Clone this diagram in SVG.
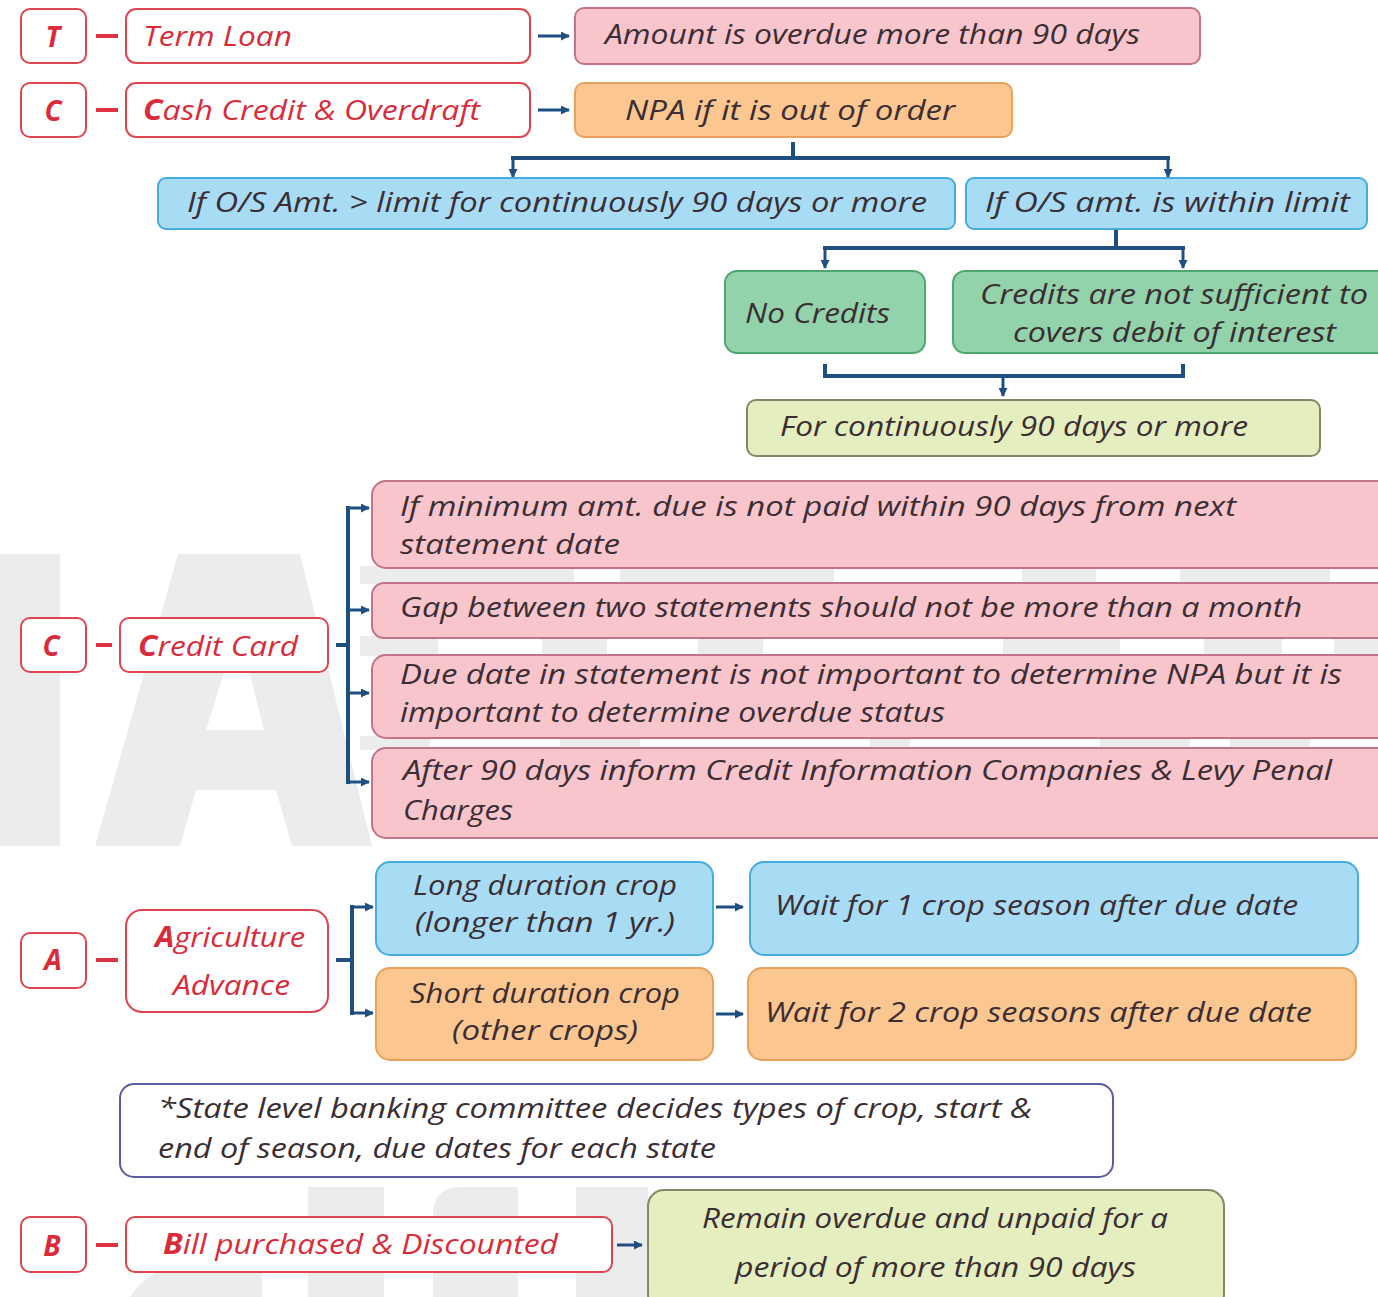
<svg xmlns="http://www.w3.org/2000/svg" width="1378" height="1297" viewBox="0 0 1378 1297">
  <style>
    .t { font-family: "Open Sans", "Liberation Sans", sans-serif; font-style: italic; font-size: 28px; fill: #3a2d33; }
    .r { fill: #d92b3a; }
    .lt { font-weight: 700; }
    .key { fill: #ffffff; stroke: #e0454f; stroke-width: 2; }
    .pink { fill: #f7c5cb; stroke: #c27488; stroke-width: 2; }
    .orange { fill: #fbc690; stroke: #e9a25c; stroke-width: 2; }
    .blue { fill: #a8dcf5; stroke: #45ace0; stroke-width: 2; }
    .green { fill: #92d3ab; stroke: #4ca86f; stroke-width: 2; }
    .olive { fill: #e5eebf; stroke: #85876a; stroke-width: 2; }
    .note { fill: #ffffff; stroke: #5c5ca2; stroke-width: 2; }
    .dash { stroke: #dd3342; stroke-width: 4; fill: none; }
    .wire { stroke: #1e4f80; stroke-width: 4; fill: none; }
    .arr { stroke: #1e4f80; stroke-width: 3; fill: none; marker-end: url(#head); }
    .wm { fill: #ececec; }
  </style>
  <defs>
    <marker id="head" markerUnits="userSpaceOnUse" markerWidth="9" markerHeight="9" refX="8" refY="4.5" orient="auto">
      <path d="M0,0 L9,4.5 L0,9 z" fill="#1e4f80"/>
    </marker>
  </defs>

  <rect width="1378" height="1297" fill="#ffffff"/>

  <!-- faint background lettering -->
  <g id="watermark">
    <rect class="wm" x="0" y="554" width="60" height="292"/>
    <path class="wm" d="M95,846 L178,554 L300,554 L372,846 L292,846 L276,790 L196,790 L180,846 Z M206,730 L264,730 L238,628 Z" fill-rule="evenodd"/>
    <!-- pieces showing between the credit card rows -->
    <rect class="wm" x="360" y="566" width="214" height="18"/>
    <rect class="wm" x="620" y="566" width="214" height="18"/>
    <rect class="wm" x="1022" y="566" width="74" height="18"/>
    <rect class="wm" x="1180" y="566" width="150" height="18"/>
    <rect class="wm" x="360" y="636" width="78" height="20"/>
    <rect class="wm" x="542" y="636" width="65" height="20"/>
    <rect class="wm" x="698" y="636" width="65" height="20"/>
    <rect class="wm" x="1003" y="636" width="117" height="20"/>
    <rect class="wm" x="1204" y="636" width="78" height="20"/>
    <rect class="wm" x="1334" y="636" width="44" height="20"/>
    <rect class="wm" x="360" y="736" width="70" height="14"/>
    <rect class="wm" x="560" y="736" width="80" height="14"/>
    <rect class="wm" x="870" y="736" width="40" height="14"/>
    <rect class="wm" x="1100" y="736" width="90" height="14"/>
    <rect class="wm" x="1230" y="736" width="80" height="14"/>
    <!-- pieces near the bottom -->
    <rect class="wm" x="308" y="1187" width="76" height="110"/>
    <path class="wm" d="M433,1297 V1215 Q433,1187 461,1187 H518 V1297 Z"/>
    <rect class="wm" x="576" y="1187" width="72" height="110"/>
    <path class="wm" d="M130,1297 Q150,1262 220,1258 L262,1262 L262,1297 Z"/>
  </g>

  <!-- connectors -->
  <g id="connectors">
    <line class="dash" x1="96" y1="36" x2="118" y2="36"/>
    <line class="dash" x1="96" y1="110" x2="118" y2="110"/>
    <line class="dash" x1="96" y1="645" x2="112" y2="645"/>
    <line class="dash" x1="96" y1="960" x2="118" y2="960"/>
    <line class="dash" x1="96" y1="1245" x2="118" y2="1245"/>

    <line class="arr" x1="538" y1="36" x2="569" y2="36"/>
    <line class="arr" x1="538" y1="110" x2="569" y2="110"/>

    <line class="wire" x1="793" y1="142" x2="793" y2="158"/>
    <line class="wire" x1="511" y1="158" x2="1170" y2="158"/>
    <line class="arr" x1="513" y1="158" x2="513" y2="177"/>
    <line class="arr" x1="1168" y1="158" x2="1168" y2="177"/>

    <line class="wire" x1="1116" y1="230" x2="1116" y2="248"/>
    <line class="wire" x1="823" y1="248" x2="1185" y2="248"/>
    <line class="arr" x1="825" y1="248" x2="825" y2="268"/>
    <line class="arr" x1="1183" y1="248" x2="1183" y2="268"/>

    <path class="wire" d="M825,364 V376 H1183 V364"/>
    <line class="arr" x1="1003" y1="376" x2="1003" y2="396"/>

    <line class="wire" x1="336" y1="645" x2="348" y2="645"/>
    <line class="wire" x1="348" y1="506" x2="348" y2="784"/>
    <line class="arr" x1="348" y1="508" x2="369" y2="508"/>
    <line class="arr" x1="348" y1="610" x2="369" y2="610"/>
    <line class="arr" x1="348" y1="693" x2="369" y2="693"/>
    <line class="arr" x1="348" y1="782" x2="369" y2="782"/>

    <line class="wire" x1="336" y1="960" x2="352" y2="960"/>
    <line class="wire" x1="352" y1="905" x2="352" y2="1015"/>
    <line class="arr" x1="352" y1="907" x2="373" y2="907"/>
    <line class="arr" x1="352" y1="1013" x2="373" y2="1013"/>

    <line class="arr" x1="716" y1="907" x2="743" y2="907"/>
    <line class="arr" x1="716" y1="1014" x2="743" y2="1014"/>
    <line class="arr" x1="617" y1="1245" x2="642" y2="1245"/>
  </g>

  <!-- Term loan -->
  <g id="key-t">
    <rect class="key" x="21" y="9" width="65" height="54" rx="9"/>
    <text class="t r lt" x="53" y="47" text-anchor="middle">T</text>
  </g>
  <g id="term-loan">
    <rect class="key" x="126" y="9" width="404" height="54" rx="10"/>
    <text class="t r" x="143" y="46" textLength="149" lengthAdjust="spacingAndGlyphs">Term Loan</text>
  </g>
  <g id="term-loan-rule">
    <rect class="pink" x="575" y="8" width="625" height="56" rx="9"/>
    <text class="t" x="605" y="44" textLength="535" lengthAdjust="spacingAndGlyphs">Amount is overdue more than 90 days</text>
  </g>

  <!-- Cash credit -->
  <g id="key-c1">
    <rect class="key" x="21" y="83" width="65" height="54" rx="9"/>
    <text class="t r lt" x="53" y="121" text-anchor="middle">C</text>
  </g>
  <g id="cash-credit">
    <rect class="key" x="126" y="83" width="404" height="54" rx="10"/>
    <text class="t r" x="143" y="120" textLength="337" lengthAdjust="spacingAndGlyphs"><tspan class="lt">C</tspan>ash Credit &amp; Overdraft</text>
  </g>
  <g id="out-of-order">
    <rect class="orange" x="575" y="83" width="437" height="54" rx="9"/>
    <text class="t" x="625" y="120" textLength="330" lengthAdjust="spacingAndGlyphs">NPA if it is out of order</text>
  </g>
  <g id="over-limit">
    <rect class="blue" x="158" y="178" width="797" height="51" rx="8"/>
    <text class="t" x="187" y="212" textLength="740" lengthAdjust="spacingAndGlyphs">If O/S Amt. &gt; limit for continuously 90 days or more</text>
  </g>
  <g id="within-limit">
    <rect class="blue" x="966" y="178" width="401" height="51" rx="8"/>
    <text class="t" x="985" y="212" textLength="365" lengthAdjust="spacingAndGlyphs">If O/S amt. is within limit</text>
  </g>
  <g id="no-credits">
    <rect class="green" x="725" y="271" width="200" height="82" rx="12"/>
    <text class="t" x="745" y="323" textLength="145" lengthAdjust="spacingAndGlyphs">No Credits</text>
  </g>
  <g id="insufficient-credits">
    <rect class="green" x="953" y="271" width="440" height="82" rx="12"/>
    <text class="t" x="980" y="304" textLength="388" lengthAdjust="spacingAndGlyphs">Credits are not sufficient to</text>
    <text class="t" x="1013" y="342" textLength="323" lengthAdjust="spacingAndGlyphs">covers debit of interest</text>
  </g>
  <g id="continuous-90">
    <rect class="olive" x="747" y="400" width="573" height="56" rx="9"/>
    <text class="t" x="780" y="436" textLength="468" lengthAdjust="spacingAndGlyphs">For continuously 90 days or more</text>
  </g>

  <!-- Credit card -->
  <g id="key-c2">
    <rect class="key" x="21" y="618" width="65" height="54" rx="9"/>
    <text class="t r lt" x="51" y="656" text-anchor="middle">C</text>
  </g>
  <g id="credit-card">
    <rect class="key" x="120" y="618" width="208" height="54" rx="9"/>
    <text class="t r" x="138" y="656" textLength="160" lengthAdjust="spacingAndGlyphs"><tspan class="lt">C</tspan>redit Card</text>
  </g>
  <g id="cc-minimum-due">
    <rect class="pink" x="372" y="481" width="1020" height="87" rx="14"/>
    <text class="t" x="400" y="516" textLength="836" lengthAdjust="spacingAndGlyphs">If minimum amt. due is not paid within 90 days from next</text>
    <text class="t" x="400" y="554" textLength="220" lengthAdjust="spacingAndGlyphs">statement date</text>
  </g>
  <g id="cc-statement-gap">
    <rect class="pink" x="372" y="583" width="1020" height="55" rx="12"/>
    <text class="t" x="400" y="617" textLength="902" lengthAdjust="spacingAndGlyphs">Gap between two statements should not be more than a month</text>
  </g>
  <g id="cc-due-date">
    <rect class="pink" x="372" y="655" width="1020" height="83" rx="14"/>
    <text class="t" x="400" y="684" textLength="942" lengthAdjust="spacingAndGlyphs">Due date in statement is not important to determine NPA but it is</text>
    <text class="t" x="400" y="722" textLength="545" lengthAdjust="spacingAndGlyphs">important to determine overdue status</text>
  </g>
  <g id="cc-after-90">
    <rect class="pink" x="372" y="748" width="1020" height="90" rx="14"/>
    <text class="t" x="403" y="780" textLength="929" lengthAdjust="spacingAndGlyphs">After 90 days inform Credit Information Companies &amp; Levy Penal</text>
    <text class="t" x="403" y="820" textLength="110" lengthAdjust="spacingAndGlyphs">Charges</text>
  </g>

  <!-- Agriculture advance -->
  <g id="key-a">
    <rect class="key" x="21" y="933" width="65" height="55" rx="9"/>
    <text class="t r lt" x="53" y="970" text-anchor="middle">A</text>
  </g>
  <g id="agriculture">
    <rect class="key" x="126" y="910" width="202" height="102" rx="16"/>
    <text class="t r" x="155" y="947" textLength="150" lengthAdjust="spacingAndGlyphs"><tspan class="lt">A</tspan>griculture</text>
    <text class="t r" x="173" y="995" textLength="117" lengthAdjust="spacingAndGlyphs">Advance</text>
  </g>
  <g id="long-crop">
    <rect class="blue" x="376" y="862" width="337" height="93" rx="14"/>
    <text class="t" x="413" y="895" textLength="264" lengthAdjust="spacingAndGlyphs">Long duration crop</text>
    <text class="t" x="415" y="932" textLength="260" lengthAdjust="spacingAndGlyphs">(longer than 1 yr.)</text>
  </g>
  <g id="long-crop-rule">
    <rect class="blue" x="750" y="862" width="608" height="93" rx="14"/>
    <text class="t" x="775" y="915" textLength="523" lengthAdjust="spacingAndGlyphs">Wait for 1 crop season after due date</text>
  </g>
  <g id="short-crop">
    <rect class="orange" x="376" y="968" width="337" height="92" rx="14"/>
    <text class="t" x="410" y="1003" textLength="270" lengthAdjust="spacingAndGlyphs">Short duration crop</text>
    <text class="t" x="452" y="1040" textLength="186" lengthAdjust="spacingAndGlyphs">(other crops)</text>
  </g>
  <g id="short-crop-rule">
    <rect class="orange" x="748" y="968" width="608" height="92" rx="14"/>
    <text class="t" x="765" y="1022" textLength="547" lengthAdjust="spacingAndGlyphs">Wait for 2 crop seasons after due date</text>
  </g>
  <g id="crop-note">
    <rect class="note" x="120" y="1084" width="993" height="93" rx="14"/>
    <text class="t" x="158" y="1118" textLength="874" lengthAdjust="spacingAndGlyphs">*State level banking committee decides types of crop, start &amp;</text>
    <text class="t" x="158" y="1158" textLength="558" lengthAdjust="spacingAndGlyphs">end of season, due dates for each state</text>
  </g>

  <!-- Bills -->
  <g id="key-b">
    <rect class="key" x="21" y="1217" width="65" height="55" rx="9"/>
    <text class="t r lt" x="52" y="1256" text-anchor="middle">B</text>
  </g>
  <g id="bills">
    <rect class="key" x="126" y="1217" width="486" height="55" rx="9"/>
    <text class="t r" x="163" y="1254" textLength="395" lengthAdjust="spacingAndGlyphs"><tspan class="lt">B</tspan>ill purchased &amp; Discounted</text>
  </g>
  <g id="bills-rule">
    <rect class="olive" x="648" y="1190" width="576" height="120" rx="16"/>
    <text class="t" x="702" y="1228" textLength="466" lengthAdjust="spacingAndGlyphs">Remain overdue and unpaid for a</text>
    <text class="t" x="735" y="1277" textLength="401" lengthAdjust="spacingAndGlyphs">period of more than 90 days</text>
  </g>
</svg>
